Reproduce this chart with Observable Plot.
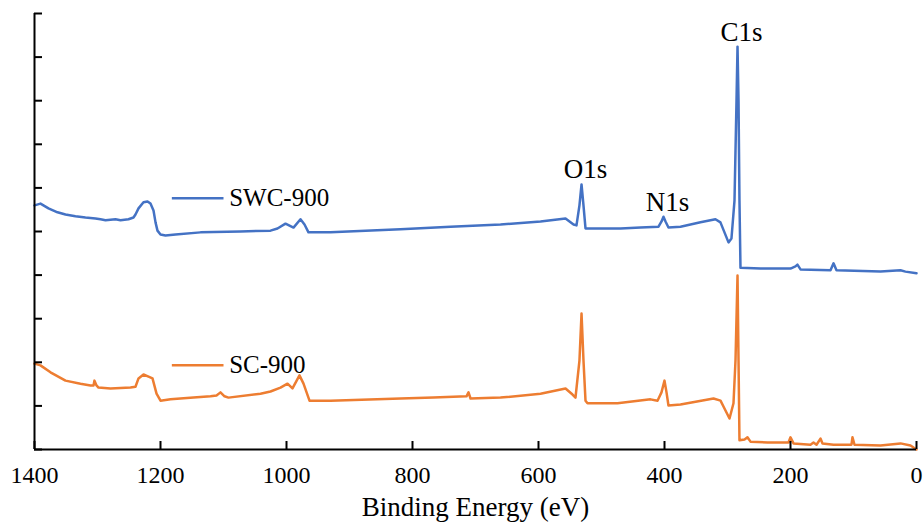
<!DOCTYPE html>
<html>
<head>
<meta charset="utf-8">
<script src="https://cdn.jsdelivr.net/npm/d3@7"></script>
<script src="https://cdn.jsdelivr.net/npm/@observablehq/plot@0.6"></script>
<style>
  html, body { margin: 0; padding: 0; background: #fff; }
  svg text { font-family: "Liberation Serif", "Times New Roman", Times, serif !important; }
</style>
</head>
<body>
<div id="chart"></div>
<script>
// ---- Data ----
const xTitle = "Binding Energy (eV)";
const xTicks = [1400, 1200, 1000, 800, 600, 400, 200, 0];
const yTicks = [0, 10, 20, 30, 40, 50, 60, 70, 80, 90, 100];

const seriesNames = ["SWC-900", "SC-900"];
const seriesColors = ["#4472C4", "#ED7D31"];

// SWC-900 (upper spectrum), binding energy (eV) and intensity (a.u.)
const swcEnergy = [1400, 1390.5, 1377.8, 1363.5, 1350.8, 1335, 1319.1, 1303.2, 1295.2, 1287.3, 1271.4, 1263.5, 1250.8, 1242.9, 1239.7, 1234.9, 1227, 1220.6, 1215.9, 1211.1, 1207.9, 1204.8, 1200, 1192.1, 1176.2, 1136.5, 1073, 1025.4, 1014.3, 1001.6, 988.9, 977.8, 971.4, 965.1, 930.2, 819, 739.7, 660.3, 596.8, 557.1, 544.4, 539.7, 535, 531.7, 528.6, 525.4, 501.6, 469.8, 438.1, 409.5, 404.7, 401.6, 398.4, 393.7, 374.6, 342.9, 319.1, 311.2, 304.8, 298.4, 293.7, 288.9, 285.7, 284.1, 282.5, 281, 279.4, 247.6, 200, 192.1, 189, 184.1, 136.5, 131.7, 127, 57.1, 25.4, 17.5, 0];
const swcIntensity = [56.0, 56.4, 55.3, 54.4, 53.9, 53.5, 53.2, 53.0, 52.8, 52.6, 52.8, 52.6, 52.8, 53.2, 53.9, 55.3, 56.7, 56.9, 56.4, 54.8, 52.1, 50.2, 49.3, 49.1, 49.3, 49.8, 50.0, 50.2, 50.7, 51.8, 50.9, 52.8, 51.6, 49.8, 49.8, 50.5, 51.1, 51.6, 52.3, 53.0, 51.6, 51.4, 56.0, 60.8, 56.0, 50.7, 50.7, 50.7, 50.9, 51.1, 52.3, 53.4, 52.3, 50.9, 51.1, 52.1, 52.8, 52.1, 49.8, 47.5, 48.4, 57.1, 80.0, 92.4, 80.0, 57.1, 41.7, 41.5, 41.5, 42.0, 42.4, 41.3, 41.1, 42.7, 41.1, 40.8, 41.1, 40.8, 40.4];

// SC-900 (lower spectrum)
const scEnergy = [1400, 1390.5, 1374.6, 1350.8, 1327, 1311.1, 1306.3, 1304.8, 1301.6, 1298.4, 1279.4, 1247.6, 1239.7, 1234.9, 1227, 1219, 1212.7, 1206.3, 1200, 1184.1, 1147.6, 1120.6, 1111.1, 1104.8, 1098.4, 1092.1, 1041.3, 1025.4, 1009.5, 998.4, 990.5, 979.4, 973, 963.5, 930.2, 819, 766.7, 714.3, 711.1, 707.9, 660.3, 596.8, 557.1, 546, 541.3, 535, 531.7, 528.6, 525.4, 522.2, 474.6, 422.2, 411.1, 404.8, 400, 396.8, 393.7, 374.6, 322.2, 311.1, 304.8, 296.8, 290.5, 287.3, 284.1, 282.5, 281, 273, 268.3, 263.5, 236.5, 203.2, 200, 195.2, 168.3, 163.5, 158.7, 152.4, 149.2, 131.7, 103.2, 101.6, 98.4, 57.1, 25.4, 9.5, 0];
const scIntensity = [19.7, 19.3, 17.7, 15.8, 15.1, 14.7, 14.7, 15.8, 14.7, 14.2, 14.0, 14.2, 14.4, 16.3, 17.2, 16.7, 16.3, 12.8, 11.2, 11.5, 11.9, 12.2, 12.4, 13.1, 12.2, 11.9, 12.8, 13.3, 14.2, 15.1, 14.0, 17.0, 15.1, 11.2, 11.2, 11.7, 11.9, 12.2, 13.1, 11.7, 11.9, 12.8, 14.0, 12.6, 11.9, 20.4, 31.2, 20.4, 11.2, 10.6, 10.6, 11.5, 11.2, 13.1, 15.8, 13.1, 10.1, 10.3, 11.7, 11.2, 9.4, 7.1, 10.6, 20.4, 39.9, 20.4, 2.1, 2.3, 2.8, 1.8, 1.6, 1.6, 2.8, 1.4, 1.1, 1.6, 1.1, 2.5, 1.4, 1.1, 1.1, 2.8, 1.1, 0.9, 1.4, 0.9, 0.0];

// Peak annotations (labelled at the SWC-900 peak maxima)
const peakNames = ["O1s", "N1s", "C1s"];
const peakEnergy = [531.7, 401.6, 284.1];

// ---- Build tables ----
const swc = swcEnergy.map((e, i) => ({E: e, I: swcIntensity[i]}));
const sc = scEnergy.map((e, i) => ({E: e, I: scIntensity[i]}));
const peaks = peakNames.map((name, i) => {
  const row = swc.find(d => d.E === peakEnergy[i]);
  return {name, E: row.E, I: row.I};
});

// inline legend anchors (in data units)
const legendRows = seriesNames.map((name, i) => ({
  name, color: seriesColors[i],
  x1: 1182, x2: 1100, xt: 1091,
  y: i === 0 ? 57.6 : 19.3
}));

const serif = "Liberation Serif";

const chart = Plot.plot({
  width: 924,
  height: 530,
  marginLeft: 34,
  marginRight: 8,
  marginTop: 13,
  marginBottom: 81,
  style: {fontFamily: serif, fontSize: "24px", color: "black", background: "#fff"},
  x: {domain: [1400, 0], ticks: xTicks, tickFormat: d => String(d)},
  y: {domain: [0, 100], ticks: yTicks},
  marks: [
    Plot.line(swc, {x: "E", y: "I", stroke: seriesColors[0], strokeWidth: 2.5}),
    Plot.line(sc, {x: "E", y: "I", stroke: seriesColors[1], strokeWidth: 2.5}),
    // axis lines
    Plot.ruleX([1400], {stroke: "black", strokeWidth: 2}),
    Plot.ruleY([0], {stroke: "black", strokeWidth: 2}),
    // inward ticks
    Plot.axisX({ticks: xTicks, tickSize: -8, tickFormat: () => "", strokeWidth: 2, label: null}),
    Plot.axisX({ticks: xTicks, tickSize: 0, tickPadding: 16, tickFormat: d => String(d), fontSize: 24, fontFamily: serif, label: null, fill: "black"}),
    Plot.axisY({ticks: yTicks, tickSize: -8, tickFormat: () => "", strokeWidth: 2, label: null}),
    // axis title
    Plot.text([xTitle], {frameAnchor: "bottom", dy: 66, fontSize: 27, fontFamily: serif, fill: "black"}),
    // peak labels
    Plot.text(peaks, {x: "E", y: "I", text: "name", dx: 4, dy: -6, lineAnchor: "bottom", fontSize: 27, fontFamily: serif, fill: "black"}),
    // inline legend
    Plot.link(legendRows, {x1: "x1", x2: "x2", y1: "y", y2: "y", stroke: "color", strokeWidth: 2.5}),
    Plot.text(legendRows, {x: "xt", y: "y", text: "name", textAnchor: "start", fontSize: 25, fontFamily: serif, fill: "black"})
  ]
});

document.getElementById("chart").appendChild(chart);
</script>
</body>
</html>
